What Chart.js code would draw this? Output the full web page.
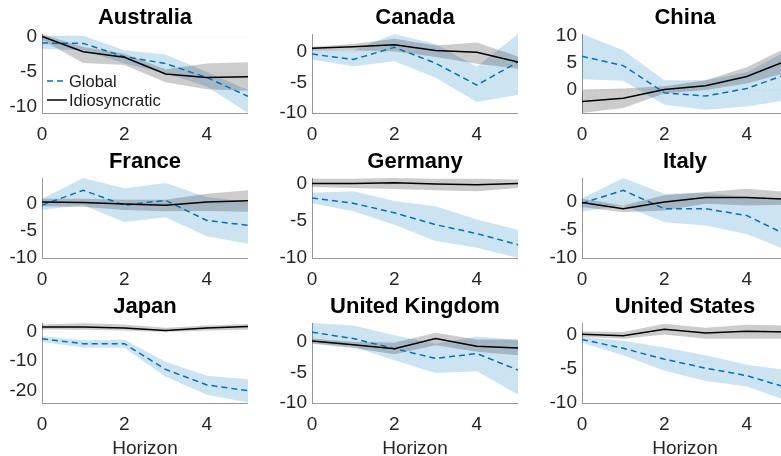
<!DOCTYPE html>
<html>
<head>
  <title>Global vs Idiosyncratic responses</title>
  <script src="https://cdn.jsdelivr.net/npm/chart.js"></script>
  <style>
    body {
      margin: 0;
      width: 781px;
      height: 456px;
      overflow: hidden;
      background: #fff;
      position: relative;
    }
    canvas {
      position: absolute;
    }
  </style>
</head>
<body>
  <script>
    // horizon axis
    const horizon = [0, 1, 2, 3, 4, 5];
    const xTicks = [0, 2, 4];

    const countries = ['Australia', 'Canada', 'China', 'France', 'Germany', 'Italy', 'Japan', 'United Kingdom', 'United States'];

    // y limits and ticks per panel
    const yMin = [-10.9, -10, -4.2, -10, -10, -10, -24.3, -10, -10];
    const yMax = [0.45, 3.0, 10.3, 4.7, 0.8, 4.3, 3.1, 3.1, 1.7];
    const yTicks = [
      [-10, -5, 0], [-10, -5, 0], [0, 5, 10],
      [-10, -5, 0], [-10, -5, 0], [-10, -5, 0],
      [-20, -10, 0], [-10, -5, 0], [-10, -5, 0]
    ];

    // Global shock response (median, lower, upper)
    const globalMid = [
      [-0.85, -0.9, -2.8, -3.8, -5.8, -8.5],
      [-0.3, -1.2, 0.8, -1.8, -5.4, -1.6],
      [6.2, 4.5, -0.5, -1.1, 0.3, 3.0],
      [-0.3, 2.45, -0.3, 0.6, -3.1, -4.0],
      [-1.9, -2.6, -3.9, -5.5, -6.7, -8.2],
      [-0.2, 2.1, -1.2, -1.2, -2.4, -6.0],
      [-2.3, -4.0, -4.0, -12.8, -18.1, -20.1],
      [1.6, 0.55, -1.1, -2.7, -1.9, -4.6],
      [-0.7, -2.0, -3.6, -4.9, -6.0, -7.8]
    ];
    const globalLo = [
      [-1.7, -1.9, -3.8, -5.2, -7.1, -10.9],
      [-1.2, -2.3, -1.5, -4.2, -8.2, -7.0],
      [2.0, 1.7, -2.7, -3.6, -3.0, -1.8],
      [-1.2, -0.3, -3.4, -2.5, -6.0, -7.4],
      [-2.6, -3.7, -5.5, -7.7, -8.6, -10],
      [-1.7, -0.6, -3.6, -4.2, -5.7, -8.7],
      [-3.4, -5.3, -5.4, -15.3, -21.5, -24.1],
      [-0.2, -0.8, -3.0, -5.1, -4.8, -8.6],
      [-1.2, -3.0, -5.3, -6.8, -7.6, -9.7]
    ];
    const globalHi = [
      [0.2, 0.2, -1.9, -2.5, -5.0, -7.6],
      [0.5, 0.3, 3.0, 1.35, -2.4, 3.0],
      [10.3, 7.3, 1.8, 1.8, 3.3, 7.3],
      [0.9, 4.7, 2.8, 3.8, 1.2, 0.3],
      [-1.2, -1.0, -2.3, -3.0, -4.8, -6.2],
      [0.7, 4.3, 1.5, 1.6, 0.9, 0.3],
      [-1.4, -2.8, -2.6, -10.2, -15.0, -16.2],
      [3.1, 2.7, 1.1, -0.3, 0.9, 0.3],
      [-0.35, -0.9, -1.9, -3.0, -4.4, -5.2]
    ];

    // Idiosyncratic shock response (median, lower, upper)
    const idioMid = [
      [0.1, -2.1, -2.9, -5.3, -5.8, -5.7],
      [0.65, 0.9, 1.25, 0.27, 0, -1.6],
      [-2.1, -1.5, 0.1, 0.8, 2.5, 5.5],
      [0.3, 0.2, -0.1, -0.3, 0.3, 0.5],
      [0.05, 0.05, 0.15, 0, -0.1, 0.05],
      [-0.1, -1.2, 0, 0.8, 0.8, 0.5],
      [1.7, 1.7, 1.35, 0.55, 1.35, 1.9],
      [0.15, -0.45, -1.1, 0.55, -0.7, -1.0],
      [0.05, -0.15, 0.8, 0.25, 0.5, 0.4]
    ];
    const idioLo = [
      [-0.4, -3.7, -4.0, -6.5, -7.5, -7.7],
      [0.27, 0.3, 0.15, -0.8, -1.9, -2.7],
      [-4.2, -3.3, -0.6, 0, 1.2, 3.3],
      [-0.5, -0.6, -1.2, -1.4, -1.35, -1.5],
      [-0.4, -0.55, -0.7, -0.85, -1.0, -0.55],
      [-0.9, -1.8, -1.5, -0.3, -0.6, -0.5],
      [0.9, 0.8, 0.55, 0, 0.55, 0.8],
      [-0.3, -1.0, -2.0, -0.55, -1.6, -2.2],
      [-0.35, -0.6, 0, -0.6, -0.6, -0.6]
    ];
    const idioHi = [
      [0.45, -1.4, -2.4, -4.6, -3.8, -3.6],
      [0.9, 1.35, 2.2, 1.1, 1.6, -0.7],
      [0.1, 0.3, 0.7, 1.8, 4.2, 7.9],
      [0.9, 0.9, 0.7, 0.7, 1.8, 2.45],
      [0.7, 0.7, 0.8, 0.7, 0.7, 0.6],
      [0.6, -0.6, 1.2, 1.8, 2.4, 1.8],
      [2.6, 3.05, 2.6, 1.45, 2.25, 2.8],
      [0.55, 0, -0.15, 1.5, 0.4, 0.4],
      [0.5, 0.4, 1.6, 1.0, 1.45, 1.35]
    ];

    // panel geometry (plot areas)
    const colLeft = [42, 312, 582];
    const rowTop = [34, 178, 323];
    const rowH = [79, 80, 80];
    const plotW = 206;
    const yAxisW = 42;
    const titleH = 29;

    const BLUE = '#0072BD';
    Chart.defaults.font.family = "'Liberation Sans', Arial, Helvetica, sans-serif";
    Chart.defaults.color = '#262626';

    const pts = arr => arr.map((v, i) => ({ x: horizon[i], y: v }));

    // centre the panel title over the plot area, like MATLAB does
    const titleCenter = {
      id: 'titleCenter',
      beforeDraw(chart) {
        const t = chart.titleBlock;
        if (!t) return;
        t.left = chart.chartArea.left;
        t.right = chart.chartArea.right;
        t.width = t.right - t.left;
      }
    };

    const legendPlugin = {
      id: 'panelLegend',
      afterDatasetsDraw(chart) {
        if (!chart.options.plugins.panelLegend.show) return;
        const ctx = chart.ctx;
        const a = chart.chartArea;
        const rows = [
          { label: 'Global', color: BLUE, dash: [6, 4], y: a.top + 47 },
          { label: 'Idiosyncratic', color: '#000', dash: [], y: a.top + 66 }
        ];
        ctx.save();
        ctx.font = "16.5px 'Liberation Sans', Arial, sans-serif";
        ctx.textBaseline = 'middle';
        rows.forEach(r => {
          ctx.beginPath();
          ctx.setLineDash(r.dash);
          ctx.strokeStyle = r.color;
          ctx.lineWidth = 1.5;
          ctx.moveTo(a.left + 5, r.y);
          ctx.lineTo(a.left + 25, r.y);
          ctx.stroke();
          ctx.setLineDash([]);
          ctx.fillStyle = '#1a1a1a';
          ctx.fillText(r.label, a.left + 27, r.y + 1);
        });
        ctx.restore();
      }
    };

    countries.forEach((name, k) => {
      const row = Math.floor(k / 3), col = k % 3;
      const axisH = row === 2 ? 53 : 30;
      const canvas = document.createElement('canvas');
      canvas.width = plotW + yAxisW;
      canvas.height = titleH + rowH[row] + axisH;
      canvas.style.left = (colLeft[col] - yAxisW) + 'px';
      canvas.style.top = (rowTop[row] - titleH) + 'px';
      document.body.appendChild(canvas);

      // higher order is drawn first (underneath)
      new Chart(canvas.getContext('2d'), {
        type: 'line',
        data: {
          datasets: [
            { order: 9, data: pts(horizon.map(() => 0)), borderColor: '#d9d9d9', borderWidth: 0.6, borderDash: [1, 2], pointRadius: 0, fill: false },
            { order: 8, data: pts(globalHi[k]), borderWidth: 0, pointRadius: 0, fill: '+1', backgroundColor: 'rgba(0,114,189,0.2)' },
            { order: 7, data: pts(globalLo[k]), borderWidth: 0, pointRadius: 0, fill: false },
            { order: 6, data: pts(idioHi[k]), borderWidth: 0, pointRadius: 0, fill: '+1', backgroundColor: 'rgba(0,0,0,0.2)' },
            { order: 5, data: pts(idioLo[k]), borderWidth: 0, pointRadius: 0, fill: false },
            { order: 2, label: 'Global', data: pts(globalMid[k]), borderColor: BLUE, borderWidth: 1.5, borderDash: [6, 4], pointRadius: 0, fill: false },
            { order: 1, label: 'Idiosyncratic', data: pts(idioMid[k]), borderColor: '#000', borderWidth: 1.5, pointRadius: 0, fill: false }
          ]
        },
        options: {
          responsive: false,
          animation: false,
          events: [],
          layout: { padding: 0 },
          elements: { line: { tension: 0 } },
          plugins: {
            legend: { display: false },
            tooltip: { enabled: false },
            title: {
              display: true,
              text: name,
              color: '#000',
              font: { size: 22, weight: 'bold', lineHeight: 1.2 },
              padding: { top: 0, bottom: 2.6 }
            },
            panelLegend: { show: k === 0 }
          },
          scales: {
            x: {
              type: 'linear',
              min: 0,
              max: 5,
              grid: { display: false, drawTicks: false },
              border: { display: true, color: '#999', width: 1 },
              ticks: { font: { size: 19 }, padding: 10, maxRotation: 0 },
              afterBuildTicks: s => { s.ticks = xTicks.map(v => ({ value: v })); },
              afterFit: s => { s.height = axisH; },
              title: {
                display: row === 2,
                text: 'Horizon',
                font: { size: 19, lineHeight: 0.8 },
                padding: 0
              }
            },
            y: {
              min: yMin[k],
              max: yMax[k],
              grid: { display: false, drawTicks: false },
              border: { display: true, color: '#999', width: 1 },
              ticks: { font: { size: 19 }, padding: 5 },
              afterBuildTicks: s => { s.ticks = yTicks[k].map(v => ({ value: v })); },
              afterFit: s => { s.width = yAxisW; }
            }
          }
        },
        plugins: [titleCenter, legendPlugin]
      });
    });
  </script>
</body>
</html>
